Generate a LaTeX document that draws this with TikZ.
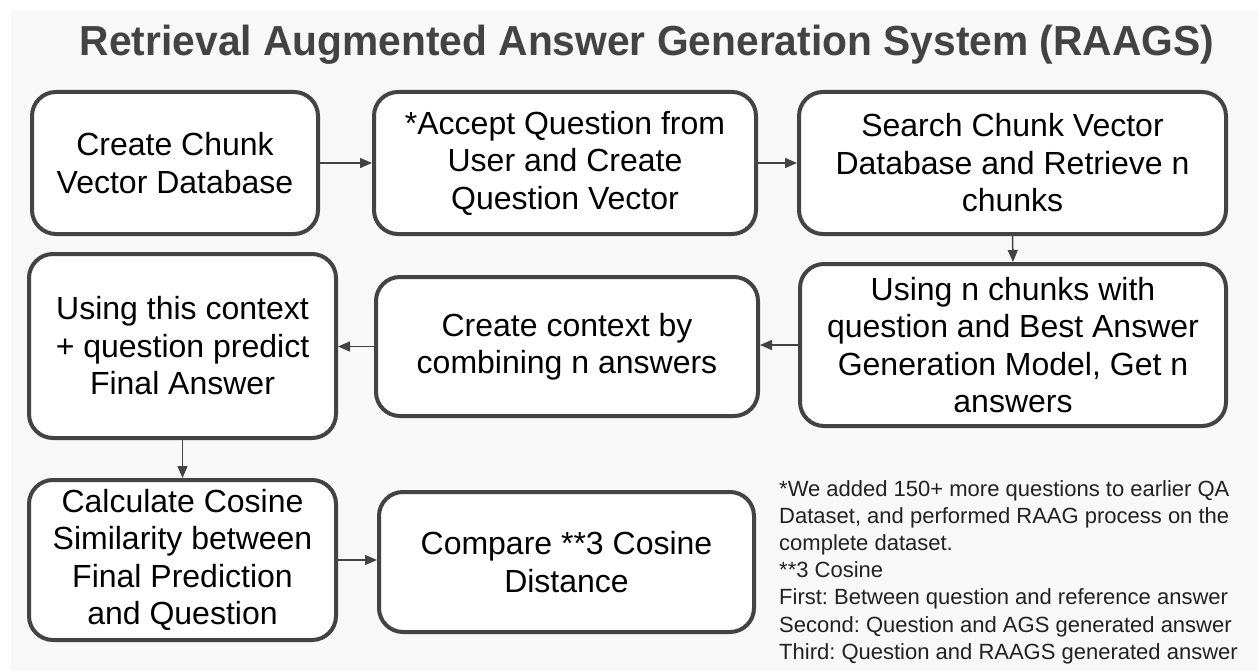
\documentclass[tikz,border=0pt]{standalone}
\usepackage{fontspec}
\setmainfont{Liberation Sans}
\usetikzlibrary{positioning,calc,arrows.meta}
\definecolor{boxgray}{RGB}{67,67,67}
\definecolor{pagegray}{RGB}{248,248,248}
\definecolor{notegray}{RGB}{33,33,33}
\frenchspacing

\begin{document}
\begin{tikzpicture}[x=1pt,y=-1pt,
  blk/.style={draw=boxgray,line width=4pt,rounded corners=24pt,fill=white,align=center,
              inner sep=0pt,font=\fontsize{32}{37.5}\selectfont,text=black},
  arr/.style={-{Triangle[length=12pt,width=10pt]},line width=1.5pt,color=boxgray},
  note/.style={font=\fontsize{22}{27.2}\selectfont,text=notegray,align=left,inner sep=0pt}]
  \useasboundingbox (0,0) rectangle (1258,671);
  \fill[pagegray] (11,10) rectangle (1258,671);
  \node[font=\fontsize{42}{50}\selectfont\bfseries,text=boxgray] (title) at (647,45)
    {\scalebox{0.97}[1]{Retrieval Augmented Answer Generation System (RAAGS)}};
  % first row
  \node[blk,minimum width=286pt,minimum height=142pt] (chunkdb) at (175,163)
    {Create Chunk\\Vector Database};
  \node[blk,minimum width=382pt,minimum height=142pt] (accept) at (565,163)
    {*Accept Question from\\User and Create\\Question Vector};
  \node[blk,minimum width=427pt,minimum height=142pt] (search) at (1012.5,163)
    {Search Chunk Vector\\Database and Retrieve n\\chunks};
  % second row
  \node[blk,minimum width=426pt,minimum height=162pt] (answers) at (1013,345)
    {Using n chunks with\\question and Best Answer\\Generation Model, Get n\\answers};
  \node[blk,minimum width=382pt,minimum height=139pt] (context) at (567,346.5)
    {Create context by\\combining n answers};
  \node[blk,minimum width=307pt,minimum height=184pt] (predict) at (182.5,346)
    {Using this context\\+ question predict\\Final Answer};
  % third row
  \node[blk,minimum width=307pt,minimum height=160pt] (cosine) at (182.5,560)
    {Calculate Cosine\\Similarity between\\Final Prediction\\and Question};
  \node[blk,minimum width=375pt,minimum height=140pt] (compare) at (566.5,562)
    {Compare **3 Cosine\\Distance};
  \node[note,anchor=north west] (remark) at (779,480)
    {*We added 150+ more questions to earlier QA\\
     Dataset, and performed RAAG process on the\\
     complete dataset.\\
     **3 Cosine\\
     First: Between question and reference answer\\
     Second: Question and AGS generated answer\\
     Third: Question and RAAGS generated answer};
  \draw[arr] (chunkdb.east) -- (accept.west);
  \draw[arr] (accept.east) -- (search.west);
  \draw[arr] (search.south) -- (answers.north);
  \draw[arr] (answers.west) -- (answers.west -| context.east);
  \draw[arr] (context.west) -- (context.west -| predict.east);
  \draw[arr] (predict.south) -- (cosine.north);
  \draw[arr] (cosine.east) -- (cosine.east -| compare.west);
\end{tikzpicture}
\end{document}
